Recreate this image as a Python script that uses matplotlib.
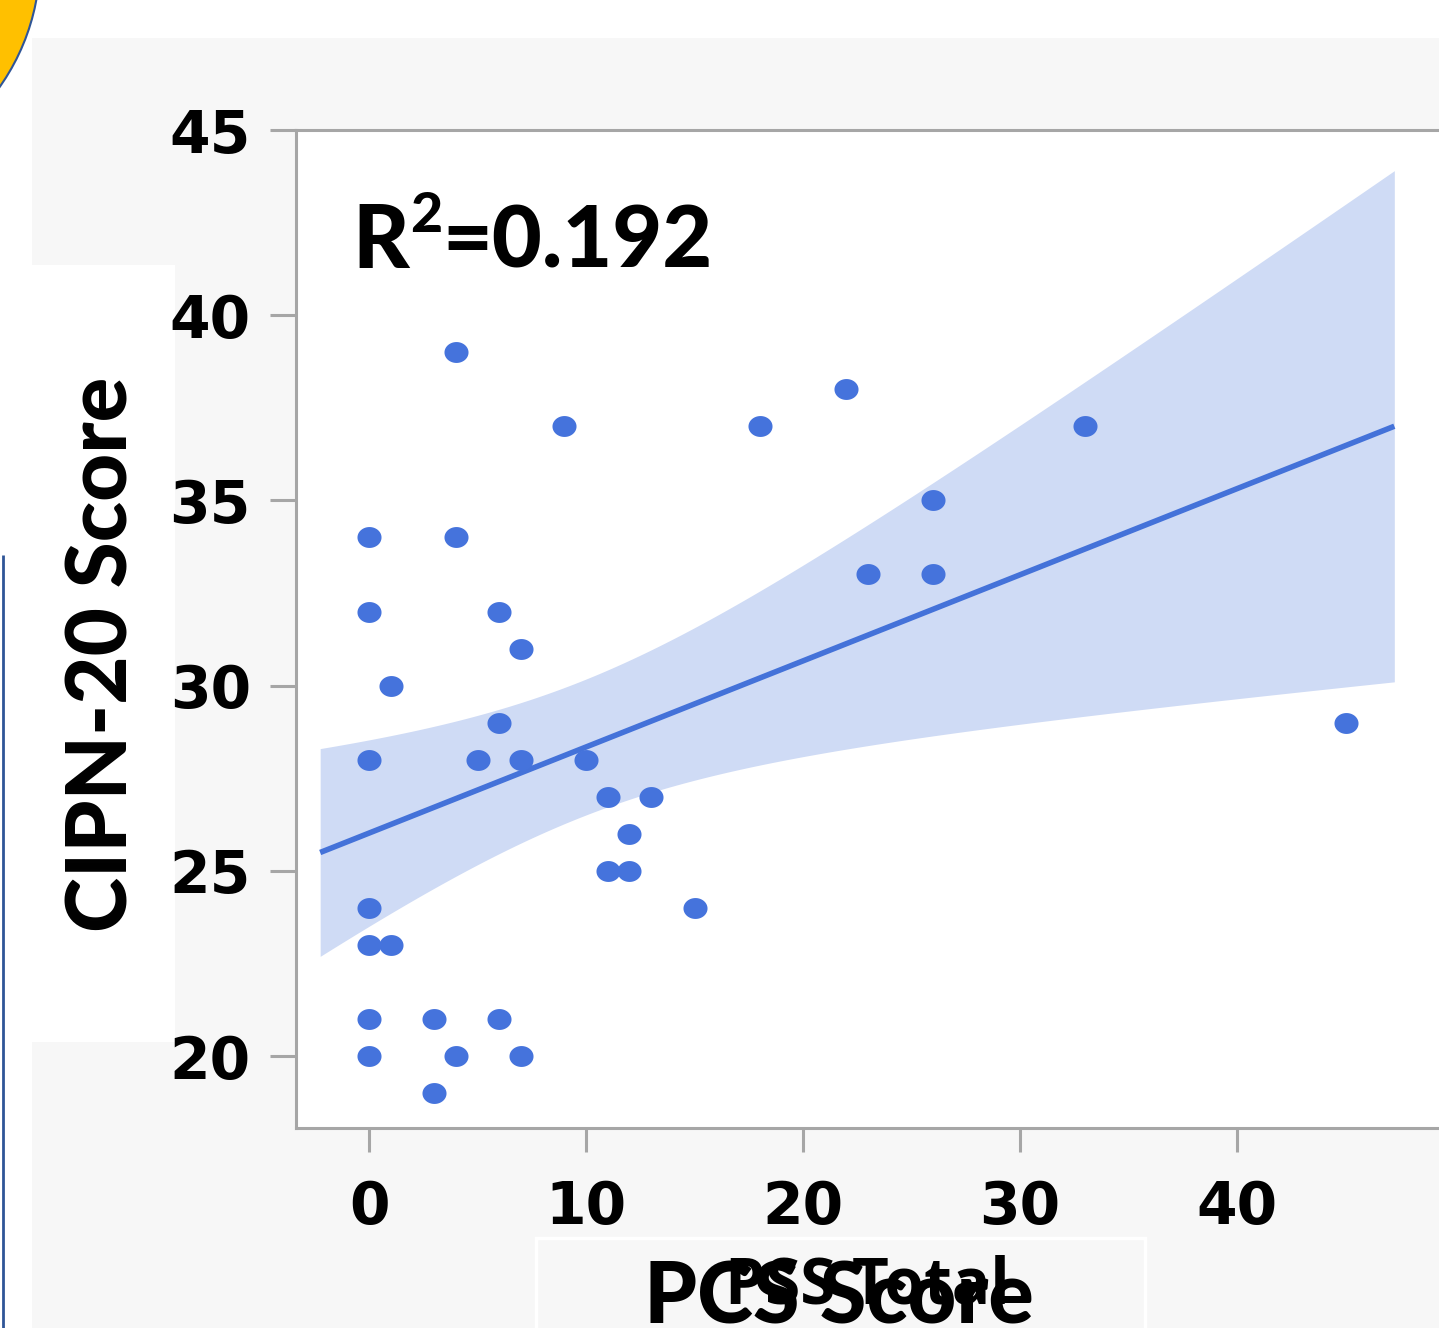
import numpy as np
import matplotlib
matplotlib.use("Agg")
import matplotlib.pyplot as plt
from matplotlib.patches import Rectangle, Circle
from matplotlib.path import Path

# ---- data ----
pcs_score = [4, 9, 18, 22, 33, 26, 23, 26, 45,
             0, 4, 0, 6, 7, 1, 6, 0, 5, 7, 10,
             11, 13, 12, 11, 12, 15,
             0, 0, 1, 0, 3, 6, 0, 4, 7, 3]
cipn_score = [39, 37, 37, 38, 37, 35, 33, 33, 29,
              34, 34, 32, 32, 31, 30, 29, 28, 28, 28, 28,
              27, 27, 26, 25, 25, 24,
              24, 23, 23, 21, 21, 21, 20, 20, 20, 19]
x_ticks = [0, 10, 20, 30, 40]
y_ticks = [20, 25, 30, 35, 40, 45]
r2_parts = ["R", "2", "=0.192"]
x_label = "PCS Score"
x_label_old = "PSS Total"
y_label = "CIPN-20 Score"

W, H = 1439, 1328
fig = plt.figure(figsize=(W / 100, H / 100), dpi=100, facecolor="white")

LABEL_FONT = dict(fontfamily="Lato", fontweight="black")

# ---- background decoration (pixel coordinates) ----
bg = fig.add_axes([0, 0, 1, 1], zorder=0)
bg.set_xlim(0, W)
bg.set_ylim(H, 0)
bg.axis("off")
bg.add_patch(Rectangle((32, 38), W - 32, H - 38, facecolor="#f7f7f7", edgecolor="none"))
bg.add_patch(Rectangle((0, 265), 175, 1042 - 265, facecolor="white", edgecolor="none"))
bg.add_patch(Rectangle((536, 1238), 1145 - 536, 200, facecolor="#f7f7f7",
                       edgecolor="white", linewidth=2.5))
bg.add_patch(Circle((-180, -40), 220, facecolor="#ffc000", edgecolor="#2f5597", linewidth=1.5))
bg.plot([2.5, 2.5], [555, H], color="#2f5597", linewidth=2, solid_capstyle="butt")

# ---- main axes ----
left, right = 296 / W, 1.0
bottom, top = 1 - 1128 / H, 1 - 130 / H
ax = fig.add_axes([left, bottom, right - left, top - bottom], zorder=1)
ax.set_facecolor("white")

x = np.asarray(pcs_score, float)
y = np.asarray(cipn_score, float)
n = len(x)
slope, intercept = np.polyfit(x, y, 1)
xr = x.max() - x.min()
xg = np.linspace(x.min() - 0.05 * xr, x.max() + 0.05 * xr, 200)
yg = intercept + slope * xg
resid = y - (intercept + slope * x)
s = np.sqrt(np.sum(resid ** 2) / (n - 2))
sxx = np.sum((x - x.mean()) ** 2)
t_crit = 2.032
half = t_crit * s * np.sqrt(1 / n + (xg - x.mean()) ** 2 / sxx)

ax.fill_between(xg, yg - half, yg + half, color="#cfdbf5", linewidth=0, zorder=1)
ax.plot(xg, yg, color="#4472d9", linewidth=4, solid_capstyle="butt", zorder=2)

t = np.linspace(0, 2 * np.pi, 60)
ell = Path(np.column_stack([1.15 * np.cos(t), np.sin(t)]))
ax.scatter(x, y, s=300, marker=ell, color="#4573dc", linewidths=0, zorder=3)

ax.set_xlim((296 - 369) / 21.7, (W - 369) / 21.7)
ax.set_ylim(20 - (1128 - 1056) / 37.04, 45)
ax.set_xticks(x_ticks)
ax.set_yticks(y_ticks)

spine_col = "#a6a6a6"
for side in ["left", "bottom", "top"]:
    ax.spines[side].set_color(spine_col)
    ax.spines[side].set_linewidth(2.2)
ax.spines["right"].set_visible(False)
ax.tick_params(axis="both", colors=spine_col, width=2.2, labelcolor="black")
ax.tick_params(axis="y", length=18.5, pad=14)
ax.tick_params(axis="x", length=17, pad=20)
for lab in ax.get_xticklabels() + ax.get_yticklabels():
    lab.set_fontfamily("DejaVu Sans")
    lab.set_fontweight("bold")
    lab.set_fontsize(42)

# R^2 annotation built from pieces
t1 = fig.text(352 / W, 1 - 268 / H, r2_parts[0], fontsize=63, color="black",
              ha="left", va="baseline", **LABEL_FONT)
t2 = fig.add_artist(plt.Annotation(r2_parts[1], xy=(1, 1), xycoords=t1,
                                   xytext=(1, 8), textcoords="offset points",
                                   fontsize=40, color="black", ha="left", va="top",
                                   **LABEL_FONT))
t3 = fig.add_artist(plt.Annotation(r2_parts[2], xy=(1, 0), xycoords=(t2, t1),
                                   xytext=(0, 0), textcoords="offset points",
                                   fontsize=62, color="black", ha="left", va="bottom",
                                   **LABEL_FONT))

fig.text(128 / W, 1 - 654 / H, y_label, fontsize=60, color="black",
         rotation=90, ha="center", va="baseline", rotation_mode="anchor", **LABEL_FONT)

fig.text(867 / W, 1 - 1303 / H, x_label_old, fontfamily="Open Sans", fontweight="bold",
         fontsize=46, color="black", ha="center", va="baseline")
fig.text(839 / W, 1 - 1323 / H, x_label, fontsize=61, color="black",
         ha="center", va="baseline", **LABEL_FONT)

fig.savefig("out.png", dpi=100, facecolor="white")
